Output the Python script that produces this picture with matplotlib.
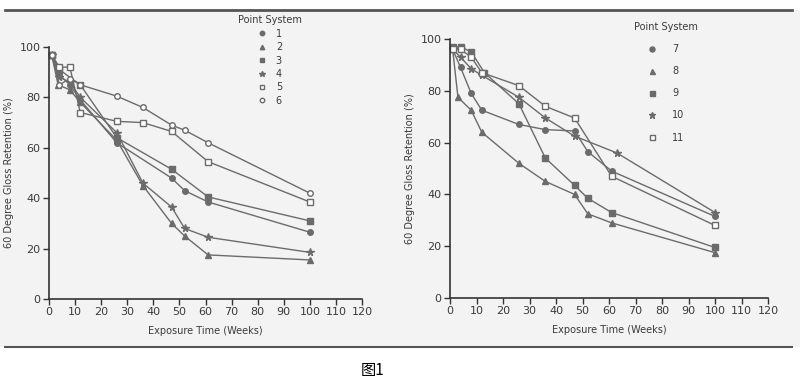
import matplotlib
matplotlib.use("Agg")
import matplotlib.pyplot as plt
from matplotlib.patches import Rectangle
from matplotlib.lines import Line2D

# left panel: point systems 1-6
w1 = [1, 4, 8, 12, 26, 47, 52, 61, 100]
v1 = [97, 89, 85, 79, 62, 48, 43, 38.5, 26.5]
w2 = [1, 3.5, 8, 12, 26, 36, 47, 52, 61, 100]
v2 = [97, 85, 83, 78, 63, 45, 30, 25, 17.5, 15.5]
w3 = [1, 4, 12, 26, 47, 61, 100]
v3 = [97, 91, 85, 64, 51.5, 40.5, 31]
w4 = [1, 4, 8, 12, 26, 36, 47, 52, 61, 100]
v4 = [97, 88, 86, 80, 66, 46, 36.5, 28, 24.5, 18.5]
w5 = [1, 4, 8, 12, 26, 36, 47, 61, 100]
v5 = [97, 92, 92, 74, 70.5, 70, 66.5, 54.5, 38.5]
w6 = [1, 4, 8, 12, 26, 36, 47, 52, 61, 100]
v6 = [97, 85, 87.5, 85, 80.5, 76, 69, 67, 62, 42]

# right panel: point systems 7-11
w7 = [1, 4, 8, 12, 26, 36, 47, 52, 61, 100]
v7 = [96, 89, 79, 72.5, 67, 65, 64.5, 56.5, 49, 31.5]
w8 = [1, 3, 8, 12, 26, 36, 47, 52, 61, 100]
v8 = [96, 77.5, 72.5, 64, 52, 45, 40, 32.5, 29, 17.5]
w9 = [1, 4, 8, 13, 26, 36, 47, 52, 61, 100]
v9 = [97, 97, 95, 87, 75, 54, 43.5, 38.5, 33, 19.5]
w10 = [1, 4, 8, 12, 26, 36, 47, 63, 100]
v10 = [96, 93, 88.5, 86, 77.5, 69.5, 62.5, 56, 33]
w11 = [1, 4, 8, 12, 26, 36, 47, 61, 100]
v11 = [96, 96, 93, 87, 82, 74, 69.5, 47, 28]

xticks = list(range(0, 121, 10))
yticks = [0, 20, 40, 60, 80, 100]

gray = "#6b6b6b"
txt = "#3a3a3a"

fig = plt.figure(figsize=(8, 3.92), dpi=100)
fig.patch.set_facecolor("white")
# scanned page area
fig.patches.append(Rectangle((0, 1 - 347 / 392), 1, (347 - 10) / 392,
                             transform=fig.transFigure, facecolor="#f3f3f3",
                             edgecolor="none", zorder=-10))
fig.add_artist(Line2D([5 / 800, 792 / 800], [1 - 10 / 392] * 2, color="#555555", lw=2))
fig.add_artist(Line2D([5 / 800, 792 / 800], [1 - 347 / 392] * 2, color="#555555", lw=1.5))


def style(ax):
    ax.set_facecolor("none")
    ax.set_xlim(0, 120)
    ax.set_ylim(0, 100)
    ax.set_xticks(xticks)
    ax.set_yticks(yticks)
    for s in ["top", "right"]:
        ax.spines[s].set_visible(False)
    for s in ["left", "bottom"]:
        ax.spines[s].set_color("#333333")
        ax.spines[s].set_linewidth(1.2)
    ax.tick_params(direction="out", length=4, width=1, colors="#333333",
                   labelsize=8, labelcolor=txt, pad=2)
    ax.set_xlabel("Exposure Time (Weeks)", fontsize=7, color=txt, labelpad=6)
    ax.set_ylabel("60 Degree Gloss Retention (%)", fontsize=7, color=txt, labelpad=4)


axL = fig.add_axes([49 / 800, 1 - 299 / 392, (362 - 49) / 800, (299 - 47) / 392])
axR = fig.add_axes([450 / 800, 1 - 298 / 392, (768 - 450) / 800, (298 - 39) / 392])
style(axL)
style(axR)

left = [(w1, v1, "o", gray, "1"), (w2, v2, "^", gray, "2"), (w3, v3, "s", gray, "3"),
        (w4, v4, "*", gray, "4"), (w5, v5, "s", "white", "5"), (w6, v6, "o", "white", "6")]
right = [(w7, v7, "o", gray, "7"), (w8, v8, "^", gray, "8"), (w9, v9, "s", gray, "9"),
         (w10, v10, "*", gray, "10"), (w11, v11, "s", "white", "11")]

for ax, series in [(axL, left), (axR, right)]:
    for w, v, m, fc, lab in series:
        ms = 5.5 if m == "*" else 4
        ax.plot(w, v, color=gray, lw=1, marker=m, ms=ms, mfc=fc, mec=gray,
                mew=1, label=lab, clip_on=False)

legL = axL.legend(title="Point System", loc="upper left", bbox_to_anchor=(0.575, 1.16),
                  frameon=False, fontsize=7, title_fontsize=7, handlelength=1.0,
                  handletextpad=0.9, labelspacing=0.35, markerscale=0.8)
legR = axR.legend(title="Point System", loc="upper left", bbox_to_anchor=(0.55, 1.1),
                  frameon=False, fontsize=7, title_fontsize=7, handlelength=1.0,
                  handletextpad=1.6, labelspacing=1.25, markerscale=0.9)
for leg in [legL, legR]:
    leg.get_title().set_color(txt)
    for t in leg.get_texts():
        t.set_color(txt)
    for h in leg.legend_handles:
        h.set_linestyle("none")

fig.text(373 / 800, 1 - 370 / 392, "图1", fontsize=11, ha="center", va="center",
         family=["Noto Sans CJK SC", "DejaVu Sans"], color="black")

fig.savefig("out.png", dpi=100, facecolor=fig.get_facecolor())
